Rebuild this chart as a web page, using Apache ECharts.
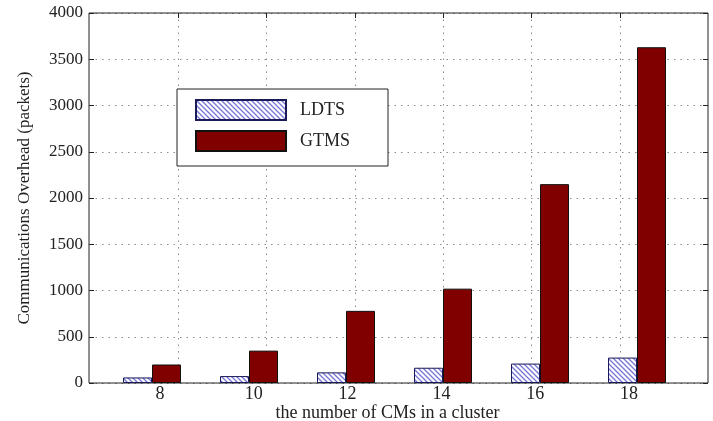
<!DOCTYPE html>
<html>
<head>
<meta charset="utf-8">
<script src="https://cdn.jsdelivr.net/npm/echarts@6/dist/echarts.min.js"></script>
<style>html,body{margin:0;padding:0;background:#fff}#c{width:713px;height:421px}</style>
</head>
<body>
<div id="c"></div>
<script>
const categories = ['8', '10', '12', '14', '16', '18'];
const ldts = [60, 75, 115, 165, 210, 275];
const gtms = [200, 350, 780, 1020, 2150, 3630];
const yTicks = { min: 0, max: 4000, interval: 500 };
const seriesNames = ['LDTS', 'GTMS'];

const FONT = 'Liberation Serif';
const INK = '#222';

function hatch() {
  const s = 5;
  const c = document.createElement('canvas');
  c.width = s; c.height = s;
  const g = c.getContext('2d');
  g.fillStyle = '#ffffff';
  g.fillRect(0, 0, s, s);
  g.strokeStyle = '#7676d6';
  g.lineWidth = 1.3;
  g.beginPath();
  g.moveTo(-1, -1); g.lineTo(s + 1, s + 1);
  g.moveTo(-1, s - 1); g.lineTo(1, s + 1);
  g.moveTo(s - 1, -1); g.lineTo(s + 1, 1);
  g.stroke();
  return c;
}

const chart = echarts.init(document.getElementById('c'), null, { renderer: 'canvas' });
const hiddenY = (gi) => ({ type: 'value', gridIndex: gi, min: yTicks.min, max: yTicks.max, show: false });
const G = (o) => Object.assign({ outerBoundsMode: 'none', containLabel: false }, o);

chart.setOption({
  animation: false,
  backgroundColor: '#fff',
  grid: [
    G({ left: 89, right: 5, top: 13, bottom: 38, show: true, borderColor: INK, borderWidth: 1, backgroundColor: 'transparent', z: 3 }),
    G({ left: 103.5, right: 27.5, top: 13, bottom: 38 }),
    G({ left: 178, right: 93, top: 13, bottom: 38 }),
    G({ left: 160, right: 84, top: 13, bottom: 38 })
  ],
  legend: {
    orient: 'vertical', left: 177, top: 89,
    data: seriesNames,
    icon: 'rect',
    itemWidth: 90, itemHeight: 20, itemGap: 9,
    padding: [10, 38, 14, 18],
    backgroundColor: '#fff', borderColor: INK, borderWidth: 1,
    textStyle: { fontFamily: FONT, fontSize: 18, color: INK, padding: [0, 0, 0, 9] },
    z: 10
  },
  xAxis: [
    { type: 'category', gridIndex: 0, data: categories, show: false },
    { type: 'category', gridIndex: 1, data: categories, boundaryGap: true, show: false },
    { type: 'category', gridIndex: 2, data: categories, boundaryGap: false, position: 'bottom',
      axisLine: { show: false }, axisLabel: { show: false },
      axisTick: { show: true, inside: true, length: 5, lineStyle: { color: INK } },
      splitLine: { show: true, lineStyle: { color: '#8a8a8a', width: 1, type: [1.5, 5] } } },
    { type: 'category', gridIndex: 3, data: categories, boundaryGap: false, position: 'bottom',
      axisLine: { show: false }, axisTick: { show: false }, splitLine: { show: false },
      axisLabel: { show: true, fontFamily: FONT, fontSize: 18, color: INK, margin: 2 },
      name: 'the number of CMs in a cluster', nameLocation: 'middle', nameGap: 21, nameMoveOverlap: false,
      nameTextStyle: { fontFamily: FONT, fontSize: 18, color: INK, padding: [0, 14, 0, 0] } },
    { type: 'category', gridIndex: 2, data: categories, boundaryGap: false, position: 'top',
      axisLine: { show: false }, axisLabel: { show: false },
      axisTick: { show: true, inside: true, length: 5, lineStyle: { color: INK } }, splitLine: { show: false } }
  ],
  yAxis: [
    { type: 'value', gridIndex: 0, min: yTicks.min, max: yTicks.max, interval: yTicks.interval, position: 'left',
      axisLine: { show: false },
      axisTick: { show: true, inside: true, length: 5, lineStyle: { color: INK } },
      axisLabel: { fontFamily: FONT, fontSize: 17, color: INK, margin: 6, formatter: (v) => String(v) },
      splitLine: { show: true, lineStyle: { color: '#8a8a8a', width: 1, type: [1.5, 5] } },
      name: 'Communications Overhead (packets)', nameLocation: 'middle', nameGap: 56, nameMoveOverlap: false,
      nameTextStyle: { fontFamily: FONT, fontSize: 17, color: INK } },
    { type: 'value', gridIndex: 0, min: yTicks.min, max: yTicks.max, interval: yTicks.interval, position: 'right',
      axisLine: { show: false }, axisLabel: { show: false },
      axisTick: { show: true, inside: true, length: 5, lineStyle: { color: INK } }, splitLine: { show: false } },
    hiddenY(1), hiddenY(2), hiddenY(3)
  ],
  series: [
    { name: seriesNames[0], type: 'bar', xAxisIndex: 1, yAxisIndex: 2, data: ldts,
      barWidth: 29, barGap: '0%', z: 4,
      itemStyle: { color: { image: hatch(), repeat: 'repeat' }, borderColor: '#1a1a5a', borderWidth: 1 } },
    { name: seriesNames[1], type: 'bar', xAxisIndex: 1, yAxisIndex: 2, data: gtms,
      barWidth: 29, barGap: '0%', z: 4,
      itemStyle: { color: '#800000', borderColor: '#111', borderWidth: 1 } }
  ]
});
</script>
</body>
</html>
